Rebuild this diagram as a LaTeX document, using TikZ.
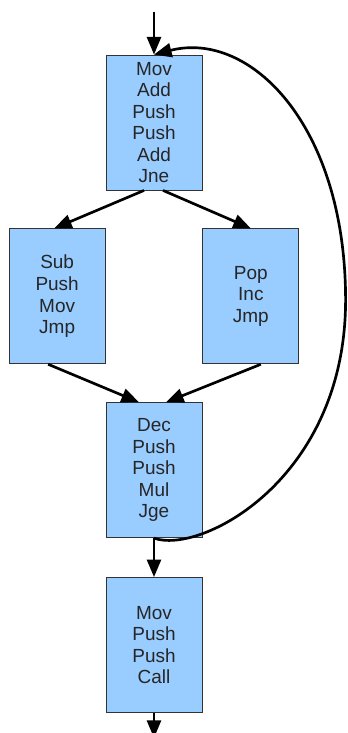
\documentclass[tikz,border=0pt]{standalone}
\usepackage{fontspec}
\setmainfont{Liberation Sans}
\usepackage{tikz}
\usetikzlibrary{positioning}
\usetikzlibrary{arrows.meta}

\definecolor{blockblue}{HTML}{99CCFF}
\definecolor{blockline}{HTML}{333333}

\tikzset{
    block/.style={draw=blockline, fill=blockblue, line width=0.6pt, minimum width=2.4cm, minimum height=3.375cm, inner sep=0pt, align=center, text=black!85, font=\fontsize{13.5}{15.3}\selectfont},
    flow/.style={line width=1.9pt, -{Triangle[length=4.4mm, width=3.5mm]}},
}

\begin{document}
\begin{tikzpicture}
    \useasboundingbox (0,0) rectangle (8.7,-18.325);

    \node [block] (top) at (3.85,-3.0625) {Mov\\Add\\Push\\Push\\Add\\Jne};
    \node [block, below left=0.95cm and 0cm of top] (left) {Sub\\Push\\Mov\\Jmp};
    \node [block, below right=0.95cm and 0cm of top] (right) {Pop\\Inc\\Jmp};
    \node [block, below right=0.95cm and 0cm of left] (mid) {Dec\\Push\\Push\\Mul\\Jge};
    \node [block, below=0.975cm of mid] (bot) {Mov\\Push\\Push\\Call};

    \coordinate [above=1.075cm of top.north] (entry);
    \coordinate [below=0.625cm of bot.south] (exit);
    \coordinate (loopr) at (8.64,-7.5);

    \draw [flow] (entry) -- (top.north);
    \draw [flow] ([xshift=-0.25cm]top.south) -- ([xshift=-0.075cm]left.north);
    \draw [flow] ([xshift=0.225cm]top.south) -- (right.north);
    \draw [flow] ([xshift=-0.225cm]left.south) -- ([xshift=-0.375cm]mid.north);
    \draw [flow] ([xshift=0.25cm]right.south) -- ([xshift=0.3cm]mid.north);
    \draw [flow] (mid.south) -- (bot.north);
    \draw [flow] (bot.south) -- (exit);

    % back edge of the loop
    \draw [flow] (mid.south) .. controls (5.0,-13.875) and (8.64,-12.0) .. (loopr)
        .. controls (8.64,-3.125) and (6.25,-0.75) .. (top.north);
\end{tikzpicture}
\end{document}
